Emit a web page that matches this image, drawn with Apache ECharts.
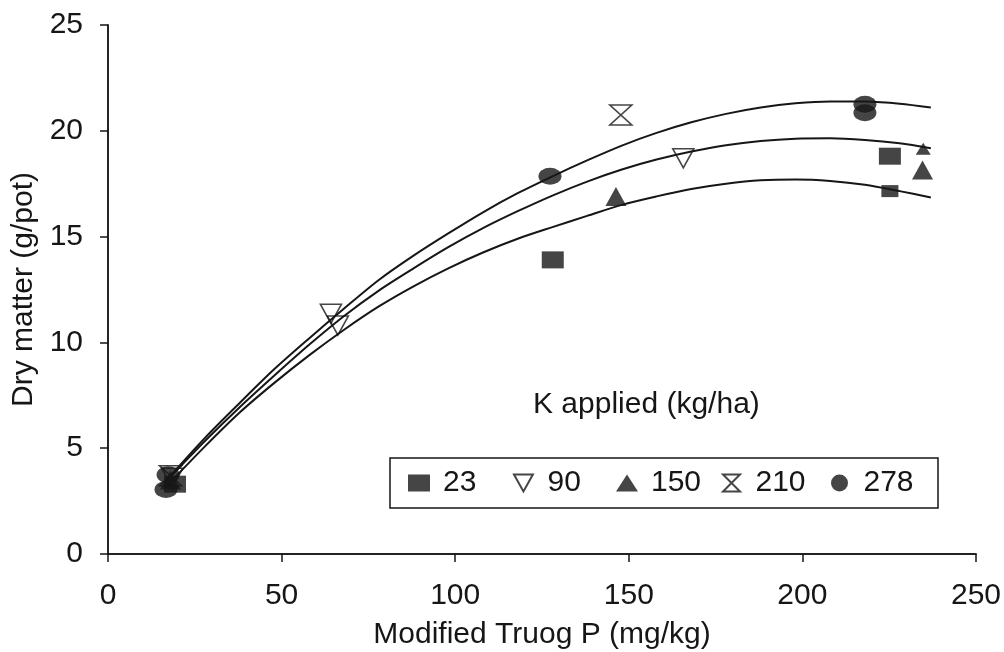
<!DOCTYPE html>
<html><head><meta charset="utf-8">
<script src="https://cdn.jsdelivr.net/npm/echarts@6/dist/echarts.min.js"></script>
<style>html,body{margin:0;background:#fff}#c{width:1004px;height:652px}</style>
</head><body><div id="c"></div>
<script>
// K applied (kg/ha) levels
const kLevels = ['23', '90', '150', '210', '278'];
// Observed points [Modified Truog P, Dry matter]
const k23 = [[19.3, 3.3], [128.1, 13.9], [225.2, 18.8]];
const k23small = [[225.2, 17.15]];
const k90 = [[18.5, 3.6], [64.2, 11.35], [66.2, 10.8], [165.7, 18.7]];
const k150 = [[18.0, 3.5], [146.3, 16.9], [234.6, 18.15]];
const k150small = [[234.8, 19.15]];
const k210 = [[18.0, 3.7], [147.7, 20.75]];
const k278 = [[16.7, 3.05], [17.3, 3.75], [127.3, 17.85], [218.0, 21.25], [218.0, 20.85]];
// Fitted curves
const fitTop = [[18, 3.7], [28, 5.5], [38, 7.15], [48, 8.75], [58, 10.2], [68, 11.6], [78, 12.95], [88, 14.1], [98, 15.15], [108, 16.15], [118, 17.05], [128, 17.85], [138, 18.6], [148, 19.3], [158, 19.9], [168, 20.4], [178, 20.8], [188, 21.1], [198, 21.3], [208, 21.39], [218, 21.38], [228, 21.28], [237, 21.1]];
const fitMid = [[18, 3.65], [28, 5.35], [38, 6.95], [48, 8.45], [58, 9.9], [68, 11.25], [78, 12.45], [88, 13.5], [98, 14.5], [108, 15.4], [118, 16.2], [128, 16.94], [138, 17.6], [148, 18.17], [158, 18.64], [168, 19.02], [178, 19.32], [188, 19.52], [198, 19.63], [208, 19.65], [218, 19.57], [228, 19.41], [237, 19.18]];
const fitLow = [[18, 3.4], [28, 5.1], [38, 6.7], [48, 8.1], [58, 9.4], [68, 10.6], [78, 11.7], [88, 12.65], [98, 13.5], [108, 14.25], [118, 14.9], [128, 15.45], [138, 15.98], [148, 16.5], [158, 16.9], [168, 17.25], [178, 17.5], [188, 17.66], [198, 17.7], [208, 17.63], [218, 17.45], [228, 17.15], [237, 16.85]];

const FONT = "'Liberation Sans', Arial, sans-serif";
const INK = '#161616';
const FS = 30;

const SYM = {
  '23': 'rect',
  '90': 'path://M0,0 L20,0 L10,18 Z',
  '150': 'triangle',
  '210': 'path://M0,0 L20,0 L0,20 L20,20 Z',
  '278': 'path://M0,10 A10,10 0 1,0 20,10 A10,10 0 1,0 0,10 Z'
};
const filled = {color: INK, borderColor: INK, borderWidth: 0};
const hollow = {color: 'rgba(0,0,0,0)', borderColor: INK, borderWidth: 1.6};

function fit(data) {
  return {type: 'line', data: data, smooth: 0.3, showSymbol: false, symbol: 'none', silent: true,
    lineStyle: {color: INK, width: 2}, z: 1};
}
function pts(name, data, size, style) {
  return {type: 'scatter', name: name, data: data, symbol: SYM[name], symbolSize: size,
    symbolKeepAspect: false, itemStyle: style, z: 3};
}

const legendX = [408, 513, 616, 722, 831];
const legends = kLevels.map((n, i) => ({
  data: [n], left: legendX[i], top: 468, orient: 'horizontal', padding: 0,
  itemWidth: 22, itemHeight: 17, itemGap: 0, selectedMode: false,
  textStyle: {fontFamily: FONT, fontSize: FS, color: INK, padding: [0, 0, 0, 8]}
}));

const option = {
  backgroundColor: '#fff',
  animation: false,
  grid: {left: 108, right: 28, top: 25, bottom: 98, containLabel: false, outerBoundsMode: 'none'},
  xAxis: [{
    type: 'value', min: 0, max: 250, interval: 50,
    name: 'Modified Truog P (mg/kg)', nameLocation: 'middle', nameGap: 66,
    nameTextStyle: {fontFamily: FONT, fontSize: FS, color: INK},
    axisLine: {show: true, onZero: false, lineStyle: {color: INK, width: 1.5}},
    axisTick: {show: true, inside: false, length: 8, lineStyle: {color: INK, width: 1.5}},
    axisLabel: {fontFamily: FONT, fontSize: FS, color: INK, margin: 27},
    splitLine: {show: false}
  }, {
    type: 'value', min: 0, max: 250, position: 'top',
    axisLine: {show: true, lineStyle: {color: INK, width: 1.5}}, axisTick: {show: false},
    axisLabel: {show: false}, splitLine: {show: false}
  }],
  yAxis: [{
    type: 'value', min: 0, max: 25, interval: 5,
    name: 'Dry matter (g/pot)', nameLocation: 'middle', nameGap: 67,
    nameTextStyle: {fontFamily: FONT, fontSize: FS, color: INK},
    axisLine: {show: true, onZero: false, lineStyle: {color: INK, width: 1.5}},
    axisTick: {show: true, inside: false, length: 8, lineStyle: {color: INK, width: 1.5}},
    axisLabel: {fontFamily: FONT, fontSize: FS, color: INK, margin: 25},
    splitLine: {show: false}
  }, {
    type: 'value', min: 0, max: 25, position: 'right',
    axisLine: {show: true, lineStyle: {color: INK, width: 1.5}}, axisTick: {show: false},
    axisLabel: {show: false}, splitLine: {show: false}
  }],
  legend: legends,
  graphic: [
    {type: 'rect', shape: {x: 390, y: 458, width: 548, height: 50},
      style: {fill: 'none', stroke: INK, lineWidth: 1.5}, silent: true},
    {type: 'text', left: 533, top: 390,
      style: {text: 'K applied (kg/ha)', font: FS + 'px ' + FONT, fill: INK}}
  ],
  series: [
    fit(fitTop), fit(fitMid), fit(fitLow),
    pts('23', k23, [22, 17], filled),
    pts('90', k90, [21, 19], hollow),
    pts('150', k150, [21, 19], filled),
    pts('210', k210, [22, 20], hollow),
    pts('278', k278, [23, 17], filled),
    pts('23', k23small, [17, 12], filled),
    pts('150', k150small, [15, 12], filled)
  ]
};

const chart = echarts.init(document.getElementById('c'), null, {renderer: 'canvas'});
chart.setOption(option);
</script>
</body></html>
